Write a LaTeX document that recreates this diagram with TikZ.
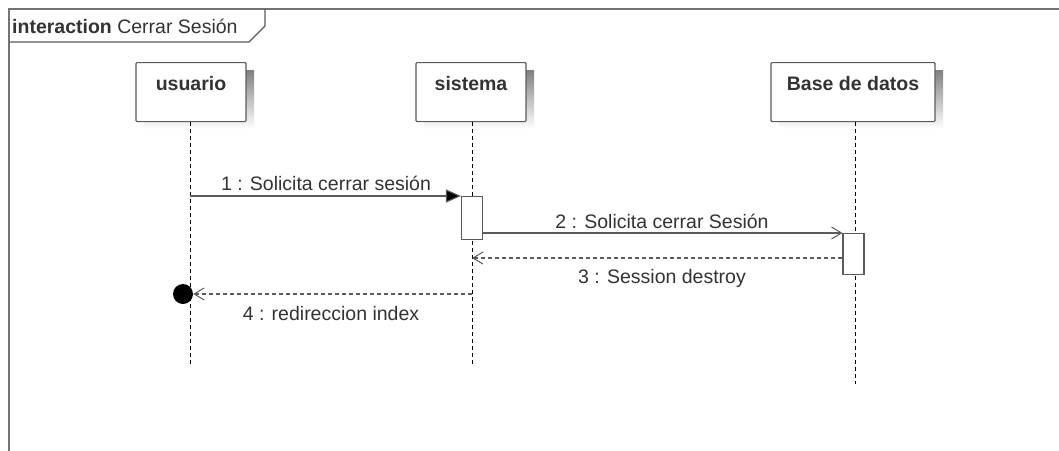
\documentclass[tikz,border=0pt]{standalone}
\usepackage{fontspec}
\setmainfont{Liberation Sans}
\usetikzlibrary{arrows.meta}
\definecolor{ink}{HTML}{333333}
\definecolor{edge}{HTML}{5A5A5A}
\definecolor{shade}{HTML}{EEEEEE}
\begin{document}
\begin{tikzpicture}[x=1pt,y=-1pt,
  every node/.style={text=ink, font=\fontsize{19.5}{22}\selectfont},
  actor/.style={draw=edge, line width=1.2pt, fill=white, minimum width=110pt, minimum height=59pt,
    anchor=north, align=center, text depth=0pt, rounded corners=1pt},
  actortitle/.style={font=\fontsize{19.5}{22}\selectfont\bfseries},
  lifeline/.style={draw=black, dashed, dash pattern=on 4pt off 3pt, line width=0.6pt},
  activation/.style={draw=edge, line width=1.1pt, fill=white, minimum width=21pt, inner sep=0pt},
  syncmsg/.style={draw=edge, line width=1.1pt, -{Triangle[length=15pt,width=13pt,fill=black]}},
  callmsg/.style={draw=edge, line width=1.1pt, -{Straight Barb[length=10pt,width=12pt,line width=1pt]}},
  replymsg/.style={draw=edge, line width=1.1pt, dash pattern=on 4pt off 3pt, -{Straight Barb[length=10pt,width=12pt,line width=1pt]}},
  msglabel/.style={inner sep=1pt}
]
\useasboundingbox (0,0) rectangle (1059,450);
\fill[white] (0,0) rectangle (1059,450);

% interaction frame with its title tab
\draw[draw=gray!90!black, line width=1.6pt] (1062,9) -- (9,9) -- (9,453);
\draw[draw=edge, line width=1.1pt] (265,9) -- (265,26) -- (249,42) -- (9,42);
\node[anchor=base west, inner sep=0pt] (frametitle) at (12,33) {\textbf{interaction} Cerrar Sesión};

% shadows behind the participant boxes
\fill[shade] (144,70) rectangle (254,129);
\fill[shade] (424,70) rectangle (534,129);
\fill[shade] (779,70) rectangle (943,129);

% participants
\node[actor] (usuario) at (191,62) {};
\node[actortitle, anchor=base] at (191,90) {usuario};
\node[actor] (sistema) at (471,62) {};
\node[actortitle, anchor=base] at (471,90) {sistema};
\node[actor, minimum width=164pt] (bd) at (853,62) {};
\node[actortitle, anchor=base] at (853,90) {Base de datos};

% lifeline ends
\coordinate (uEnd) at (190,366);
\coordinate (sEnd) at (472,366);
\coordinate (bEnd) at (855,384);

\draw[lifeline] (usuario.south -| uEnd) -- (uEnd);
\draw[lifeline] (sistema.south -| sEnd) -- (sEnd);
\draw[lifeline] (bd.south -| bEnd) -- (bEnd);

% activation bars
\node[activation, minimum height=43pt, anchor=north] (actS) at (472,196) {};
\node[activation, minimum height=41pt, anchor=north] (actB) at (853.5,233) {};

% found / lost message endpoints
\coordinate (uMsg1) at (190,196);
\node[circle, fill=black, minimum size=20pt, inner sep=0pt] (lost) at (183,294) {};

% messages
\draw[syncmsg] (uMsg1) -- (actS.north west);
\node[msglabel, anchor=base] (l1) at (326,190) {1 : Solicita cerrar sesión};

\draw[callmsg] (actS.east |- 0,233) -- (actB.north west);
\node[msglabel, anchor=base] (l2) at (662,228) {2 : Solicita cerrar Sesión};

\draw[replymsg] (actB.west |- 0,258) -- (472,258);
\node[msglabel, anchor=base] (l3) at (662,283) {3 : Session destroy};

\draw[replymsg] (472,294) -- (lost.east);
\node[msglabel, anchor=base] (l4) at (331,320) {4 : redireccion index};
\end{tikzpicture}
\end{document}
